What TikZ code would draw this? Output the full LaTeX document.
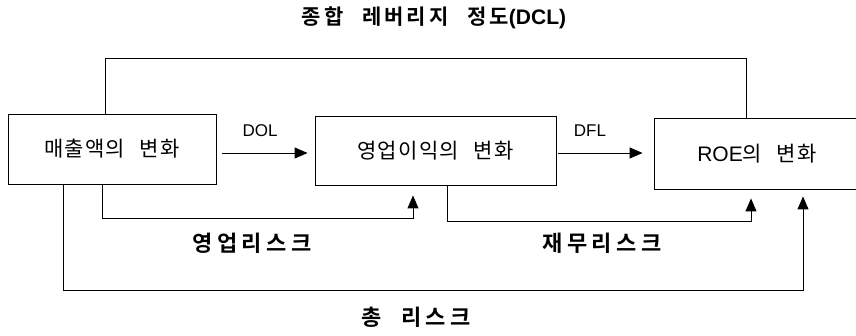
\documentclass[tikz,border=0pt]{standalone}
\usepackage{fontspec}
\usetikzlibrary{arrows.meta,calc}
\newfontfamily\krR[LetterSpace=6]{Noto Sans CJK KR}
\newfontfamily\krB[LetterSpace=14]{Noto Sans CJK KR Bold}
\newfontfamily\krBW[LetterSpace=20]{Noto Sans CJK KR Bold}
\newfontfamily\lat{Liberation Sans}
\newcommand\wgap{\hspace{0.7em}}
\newcommand\tgap{\hspace{0.9em}}
\tikzset{
  box/.style={draw, line width=0.9pt, inner sep=0pt, font=\krR\fontsize{21}{25}\selectfont},
  link/.style={line width=0.9pt},
  arr/.style={line width=0.9pt, -{Triangle[length=13pt,width=11pt]}},
  tlab/.style={font=\krB\fontsize{21}{25}\selectfont, inner sep=0pt},
  blab/.style={font=\krBW\fontsize{22}{26}\selectfont, inner sep=0pt},
  llab/.style={font=\lat\fontsize{17}{20}\selectfont, inner sep=0pt}
}
\begin{document}
\begin{tikzpicture}[x=1pt,y=-1pt]
\useasboundingbox (0,0) rectangle (856,336);
\fill[white] (0,0) rectangle (856,336);
\clip (0,0) rectangle (856,336);
\node[box, minimum width=208pt, minimum height=70pt] (b1) at (112,149) {매출액의\wgap 변화};
\node[box, minimum width=241pt, minimum height=69pt] (b2) at (435.5,150.5) {영업이익의\wgap 변화};
\node[box, minimum width=206pt, minimum height=71pt] (b3) at (757,153.5) {{\lat\fontsize{21}{25}\selectfont ROE}의\wgap 변화};
\coordinate (yA) at (0,153);
% DOL / DFL arrows
\draw[arr] ($(b1.east|-yA)+(6,0)$) -- ($(b2.west|-yA)+(-7,0)$);
\draw[arr] ($(b2.east|-yA)+(2,0)$) -- ($(b3.west|-yA)+(-11,0)$);
\node[llab] (dol) at (260,131) {DOL};
\node[llab] (dfl) at (590,131) {DFL};
% DCL loop
\draw[link] (b1.north -| 105,0) -- (105,58) -- (746,58) -- (b3.north -| 746,0);
\node[tlab] (dcl) at (434,18) {종합\tgap 레버리지\tgap 정도{\lat\bfseries\fontsize{21}{25}\selectfont(DCL)}};
% operating risk
\draw[arr] (b1.south -| 102,0) -- (102,218) -- (413,218) -- ($(b2.south -| 413,0)+(0,10)$);
\node[blab] (op) at (252,243) {영업리스크};
% financial risk
\draw[arr] (b2.south -| 447,0) -- (447,221) -- (751,221) -- ($(b3.south -| 751,0)+(0,9)$);
\node[blab] (fin) at (602,243) {재무리스크};
% total risk
\draw[arr] (b1.south -| 63,0) -- (63,290) -- (803,290) -- ($(b3.south -| 803,0)+(0,7)$);
\node[blab] (tot) at (416,317) {총\tgap 리스크};
\end{tikzpicture}
\end{document}
